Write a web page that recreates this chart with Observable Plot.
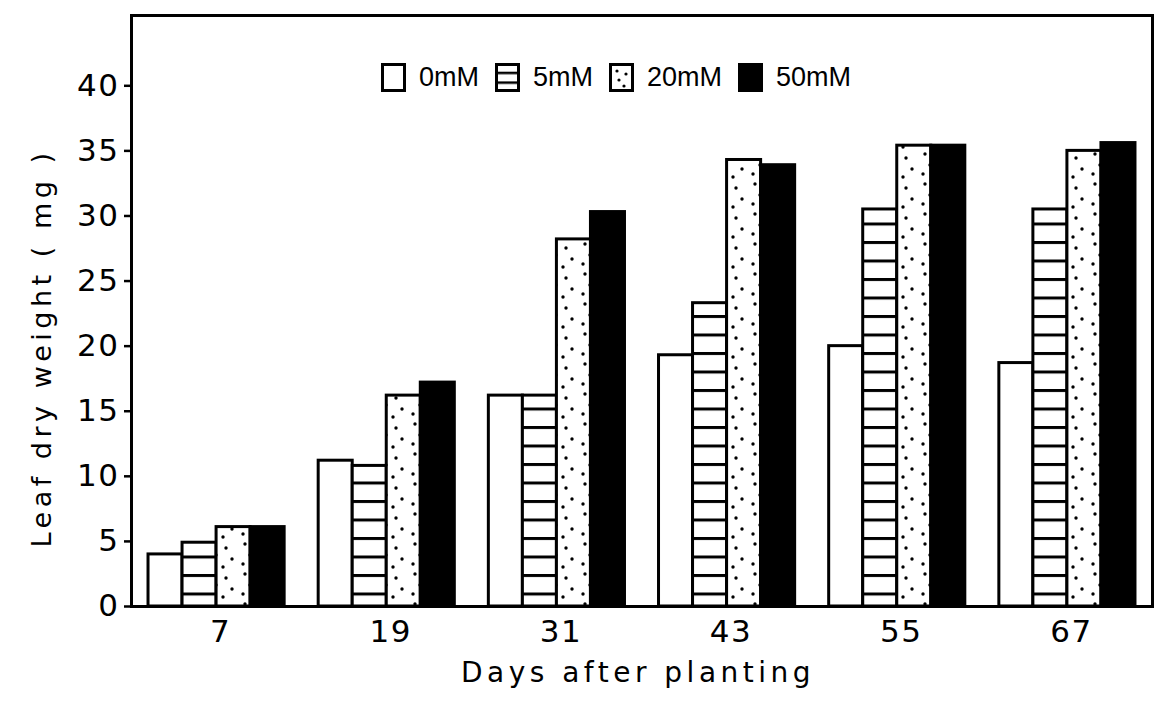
<!DOCTYPE html>
<html>
<head>
<meta charset="utf-8">
<script src="https://cdn.jsdelivr.net/npm/d3@7"></script>
<script src="https://cdn.jsdelivr.net/npm/@observablehq/plot@0.6"></script>
<style>
  body { margin: 0; background: white; }
  #wrap { position: relative; width: 1154px; height: 705px; background: white; }
  #legend { position: absolute; left: 381px; top: 62px; display: flex; align-items: center;
            font-family: "Liberation Sans", sans-serif; font-size: 27px; color: black; }
  #legend .item { display: flex; align-items: center; margin-right: 16px; }
  #legend svg { display: block; margin-right: 13px; }
</style>
</head>
<body>
<svg width="0" height="0" style="position:absolute">
  <defs>
    <pattern id="hatch" patternUnits="userSpaceOnUse" width="8" height="18.5" y="0.5">
      <rect x="0" y="0" width="8" height="18.5" fill="white"/>
      <rect x="0" y="0" width="8" height="3" fill="black"/>
    </pattern>
    <pattern id="hatchLegend" patternUnits="userSpaceOnUse" width="8" height="9.7" y="-1">
      <rect x="0" y="0" width="8" height="9.7" fill="white"/>
      <rect x="0" y="0" width="8" height="2.5" fill="black"/>
    </pattern>
    <pattern id="dots" patternUnits="userSpaceOnUse" width="34" height="30">
      <rect x="0" y="0" width="34" height="30" fill="white"/>
      <circle cx="7" cy="4" r="1.7" fill="black"/>
      <circle cx="22" cy="8" r="1.7" fill="black"/>
      <circle cx="12" cy="15" r="1.7" fill="black"/>
      <circle cx="28" cy="19" r="1.7" fill="black"/>
      <circle cx="5" cy="24" r="1.7" fill="black"/>
      <circle cx="19" cy="27" r="1.7" fill="black"/>
    </pattern>
    <pattern id="dotsLegend" patternUnits="userSpaceOnUse" width="25" height="29">
      <rect x="0" y="0" width="25" height="29" fill="white"/>
      <circle cx="8" cy="8" r="1.6" fill="black"/>
      <circle cx="17" cy="11" r="1.6" fill="black"/>
      <circle cx="10" cy="17" r="1.6" fill="black"/>
      <circle cx="15" cy="23" r="1.6" fill="black"/>
    </pattern>
  </defs>
</svg>
<div id="wrap">
  <div id="chart"></div>
  <div id="legend"></div>
</div>
<script>
// ---- data ----
const days = ["7", "19", "31", "43", "55", "67"];
const treatments = ["0mM", "5mM", "20mM", "50mM"];
const v0mM  = [4.0, 11.2, 16.2, 19.3, 20.0, 18.7];
const v5mM  = [4.9, 10.8, 16.2, 23.3, 30.5, 30.5];
const v20mM = [6.1, 16.2, 28.2, 34.3, 35.4, 35.0];
const v50mM = [6.1, 17.2, 30.3, 33.9, 35.4, 35.6];
const yTicks = [0, 5, 10, 15, 20, 25, 30, 35, 40];
const yTitle = "Leaf dry weight ( mg )";
const xTitle = "Days after planting";

// ---- styles ----
const series = [v0mM, v5mM, v20mM, v50mM];
const fills = ["white", "url(#hatch)", "url(#dots)", "black"];
const legendFills = ["white", "url(#hatchLegend)", "url(#dotsLegend)", "black"];

const W = 1154, H = 705, mL = 131, mR = 2, mT = 15, mB = 99;
const pIn = 0.2, pOut = 0.1;
const bw = d3.scaleBand().domain(days).range([mL, W - mR])
  .paddingInner(pIn).paddingOuter(pOut).bandwidth();
const n = treatments.length;

const barMarks = treatments.map((t, i) =>
  Plot.barY(days.map((d, j) => ({day: d, value: series[i][j], treatment: t})), {
    x: "day", y: "value",
    fill: fills[i], stroke: "black", strokeWidth: 3,
    insetLeft: i * bw / n, insetRight: (n - 1 - i) * bw / n
  })
);

const chart = Plot.plot({
  width: W, height: H,
  marginLeft: mL, marginRight: mR, marginTop: mT, marginBottom: mB,
  x: {domain: days, paddingInner: pIn, paddingOuter: pOut, round: false, label: null},
  y: {domain: [0, 45.4], label: null},
  style: {fontFamily: "DejaVu Sans, sans-serif", color: "black", background: "white", overflow: "visible"},
  marks: [
    ...barMarks,
    Plot.frame({stroke: "black", strokeWidth: 3}),
    Plot.axisY({ticks: yTicks, tickSize: 7, tickPadding: 5, fontSize: 31, strokeWidth: 2.5, label: null}),
    Plot.axisX({tickSize: 0, tickPadding: 13, fontSize: 31, dx: 4, label: null}),
    Plot.text([yTitle], {text: d => d, frameAnchor: "left", textAnchor: "middle", rotate: -90,
      dx: -89, dy: 37, fontSize: 27}),
    Plot.text([xTitle], {text: d => d, frameAnchor: "bottom", dy: 75, dx: -4,
      fontSize: 28})
  ]
});
document.getElementById("chart").appendChild(chart);

// letter spacing of the lettering
const svg = d3.select(chart);
svg.selectAll("text").filter(function() {
  return this.textContent === yTitle || this.textContent === xTitle;
}).attr("letter-spacing", "4.5px");
svg.selectAll("text").filter(function() {
  return days.includes(this.textContent) || yTicks.map(String).includes(this.textContent);
}).attr("letter-spacing", "1.5px");

// ---- legend ----
const legend = d3.select("#legend");
treatments.forEach((t, i) => {
  const item = legend.append("div").attr("class", "item");
  const s = item.append("svg").attr("width", 25).attr("height", 29);
  s.append("rect").attr("x", 1.5).attr("y", 1.5).attr("width", 22).attr("height", 26)
    .attr("fill", legendFills[i]).attr("stroke", "black").attr("stroke-width", 3);
  item.append("span").text(t);
});
</script>
</body>
</html>
